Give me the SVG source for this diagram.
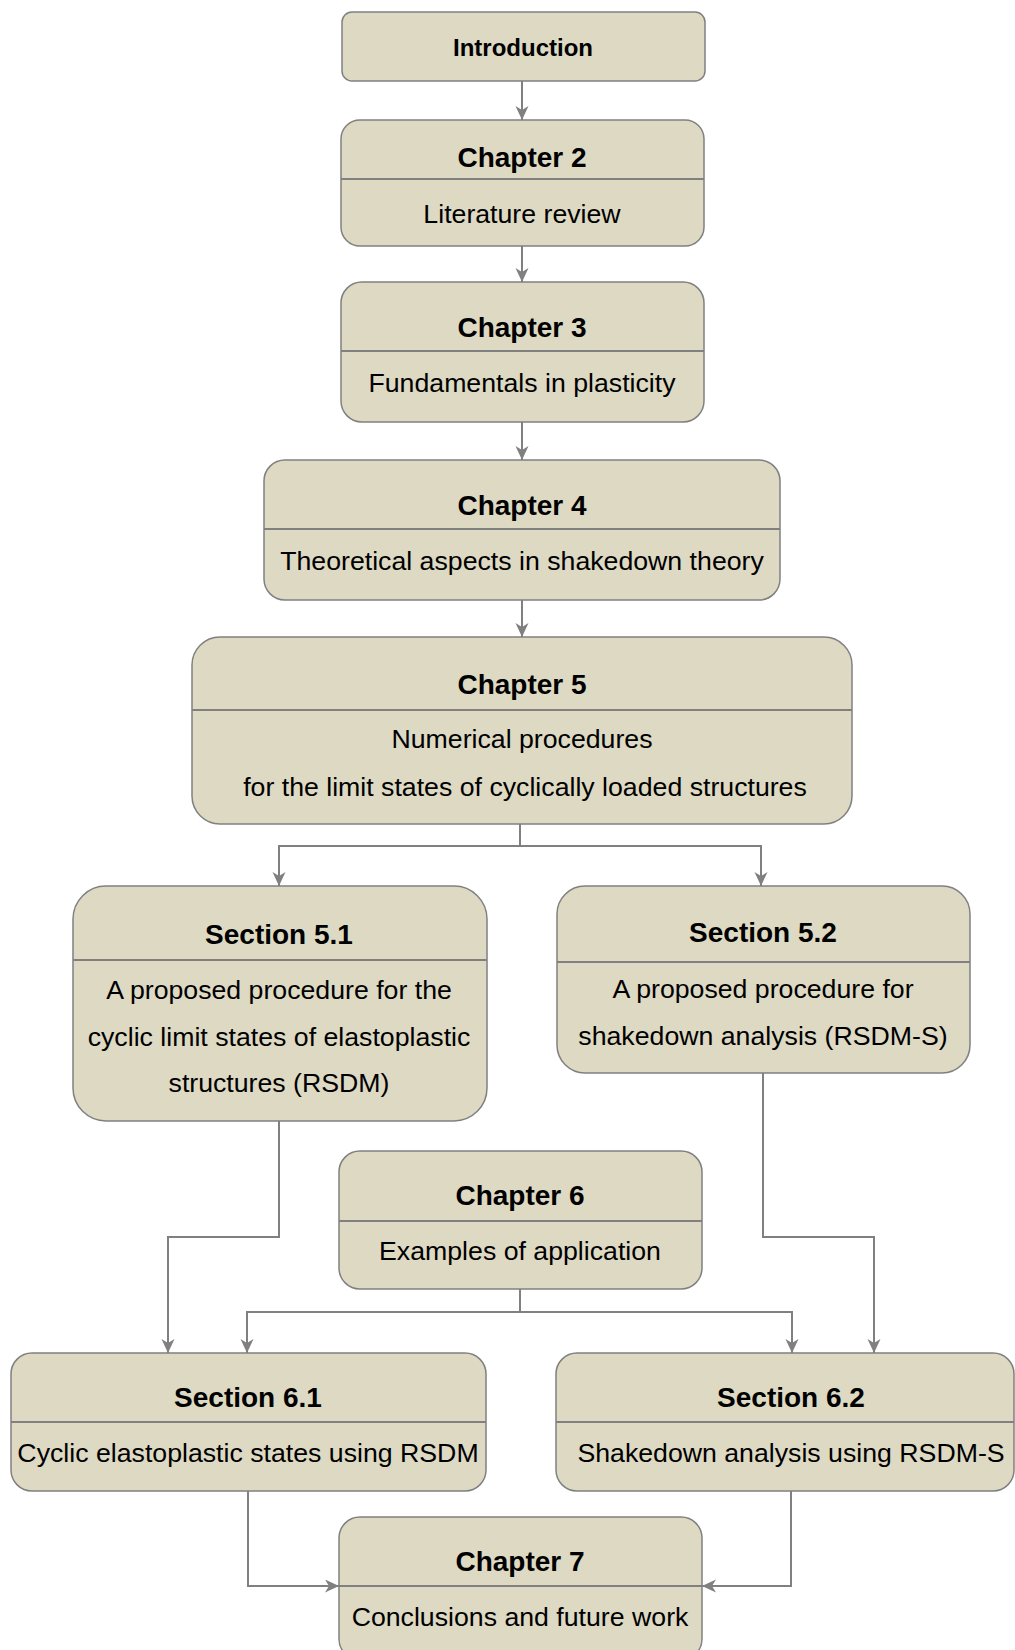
<svg xmlns="http://www.w3.org/2000/svg" width="1015" height="1650" viewBox="0 0 1015 1650">
<style>
.box{fill:#ddd9c3;stroke:#808080;stroke-width:1.5}
.div{stroke:#808080;stroke-width:2}
.t{font-family:"Liberation Sans",Arial,sans-serif;font-size:28px;font-weight:bold;fill:#000;text-anchor:middle}
.i{font-family:"Liberation Sans",Arial,sans-serif;font-size:24px;font-weight:bold;fill:#000;text-anchor:middle}
.b{font-family:"Liberation Sans",Arial,sans-serif;font-size:26.7px;fill:#000;text-anchor:middle}
.c{fill:none;stroke:#808080;stroke-width:2}
</style>
<defs>
<marker id="ah" markerUnits="userSpaceOnUse" markerWidth="16" markerHeight="14" refX="14" refY="6.5" orient="auto">
<path d="M0,0 L14,6.5 L0,13 L4,6.5 z" fill="#808080"/>
</marker>
</defs>
<rect width="1015" height="1650" fill="#fff"/>
<g id="connectors">
<path class="c" d="M522,81 V120" marker-end="url(#ah)"/>
<path class="c" d="M522,246 V282" marker-end="url(#ah)"/>
<path class="c" d="M522,422 V460" marker-end="url(#ah)"/>
<path class="c" d="M522,600 V637" marker-end="url(#ah)"/>
<path class="c" d="M520,824 V846 H279 V886" marker-end="url(#ah)"/>
<path class="c" d="M520,846 H761 V886" marker-end="url(#ah)"/>
<path class="c" d="M279,1121 V1237 H168 V1353" marker-end="url(#ah)"/>
<path class="c" d="M763,1073 V1237 H874 V1353" marker-end="url(#ah)"/>
<path class="c" d="M520,1289 V1312 H247 V1353" marker-end="url(#ah)"/>
<path class="c" d="M520,1312 H792 V1353" marker-end="url(#ah)"/>
<path class="c" d="M248,1491 V1586 H339" marker-end="url(#ah)"/>
<path class="c" d="M791,1491 V1586 H702" marker-end="url(#ah)"/>
</g>
<g id="introduction">
<rect class="box" x="342" y="12" width="363" height="69" rx="10"/>
<text class="i" x="523" y="56">Introduction</text>
</g>
<g id="chapter2">
<rect class="box" x="341" y="120" width="363" height="126" rx="19"/>
<line class="div" x1="341" y1="179" x2="704" y2="179"/>
<text class="t" x="522" y="167">Chapter 2</text>
<text class="b" x="522" y="223">Literature review</text>
</g>
<g id="chapter3">
<rect class="box" x="341" y="282" width="363" height="140" rx="21"/>
<line class="div" x1="341" y1="351" x2="704" y2="351"/>
<text class="t" x="522" y="337">Chapter 3</text>
<text class="b" x="522" y="392">Fundamentals in plasticity</text>
</g>
<g id="chapter4">
<rect class="box" x="264" y="460" width="516" height="140" rx="21"/>
<line class="div" x1="264" y1="529" x2="780" y2="529"/>
<text class="t" x="522" y="515">Chapter 4</text>
<text class="b" x="522" y="570">Theoretical aspects in shakedown theory</text>
</g>
<g id="chapter5">
<rect class="box" x="192" y="637" width="660" height="187" rx="28"/>
<line class="div" x1="192" y1="710" x2="852" y2="710"/>
<text class="t" x="522" y="694">Chapter 5</text>
<text class="b" x="522" y="748">Numerical procedures</text>
<text class="b" x="525" y="796">for the limit states of cyclically loaded structures</text>
</g>
<g id="section51">
<rect class="box" x="73" y="886" width="414" height="235" rx="33"/>
<line class="div" x1="73" y1="960" x2="487" y2="960"/>
<text class="t" x="279" y="944">Section 5.1</text>
<text class="b" x="279" y="999">A proposed procedure for the</text>
<text class="b" x="279" y="1046">cyclic limit states of elastoplastic</text>
<text class="b" x="279" y="1092">structures (RSDM)</text>
</g>
<g id="section52">
<rect class="box" x="557" y="886" width="413" height="187" rx="28"/>
<line class="div" x1="557" y1="962" x2="970" y2="962"/>
<text class="t" x="763" y="942">Section 5.2</text>
<text class="b" x="763" y="998">A proposed procedure for</text>
<text class="b" x="763" y="1045">shakedown analysis (RSDM-S)</text>
</g>
<g id="chapter6">
<rect class="box" x="339" y="1151" width="363" height="138" rx="21"/>
<line class="div" x1="339" y1="1221" x2="702" y2="1221"/>
<text class="t" x="520" y="1205">Chapter 6</text>
<text class="b" x="520" y="1260">Examples of application</text>
</g>
<g id="section61">
<rect class="box" x="11" y="1353" width="475" height="138" rx="21"/>
<line class="div" x1="11" y1="1422" x2="486" y2="1422"/>
<text class="t" x="248" y="1407">Section 6.1</text>
<text class="b" x="248" y="1462">Cyclic elastoplastic states using RSDM</text>
</g>
<g id="section62">
<rect class="box" x="556" y="1353" width="458" height="138" rx="21"/>
<line class="div" x1="556" y1="1422" x2="1014" y2="1422"/>
<text class="t" x="791" y="1407">Section 6.2</text>
<text class="b" x="791" y="1462">Shakedown analysis using RSDM-S</text>
</g>
<g id="chapter7">
<rect class="box" x="339" y="1517" width="363" height="143" rx="21"/>
<line class="div" x1="339" y1="1586" x2="702" y2="1586"/>
<text class="t" x="520" y="1571">Chapter 7</text>
<text class="b" x="520" y="1626">Conclusions and future work</text>
</g>
</svg>
